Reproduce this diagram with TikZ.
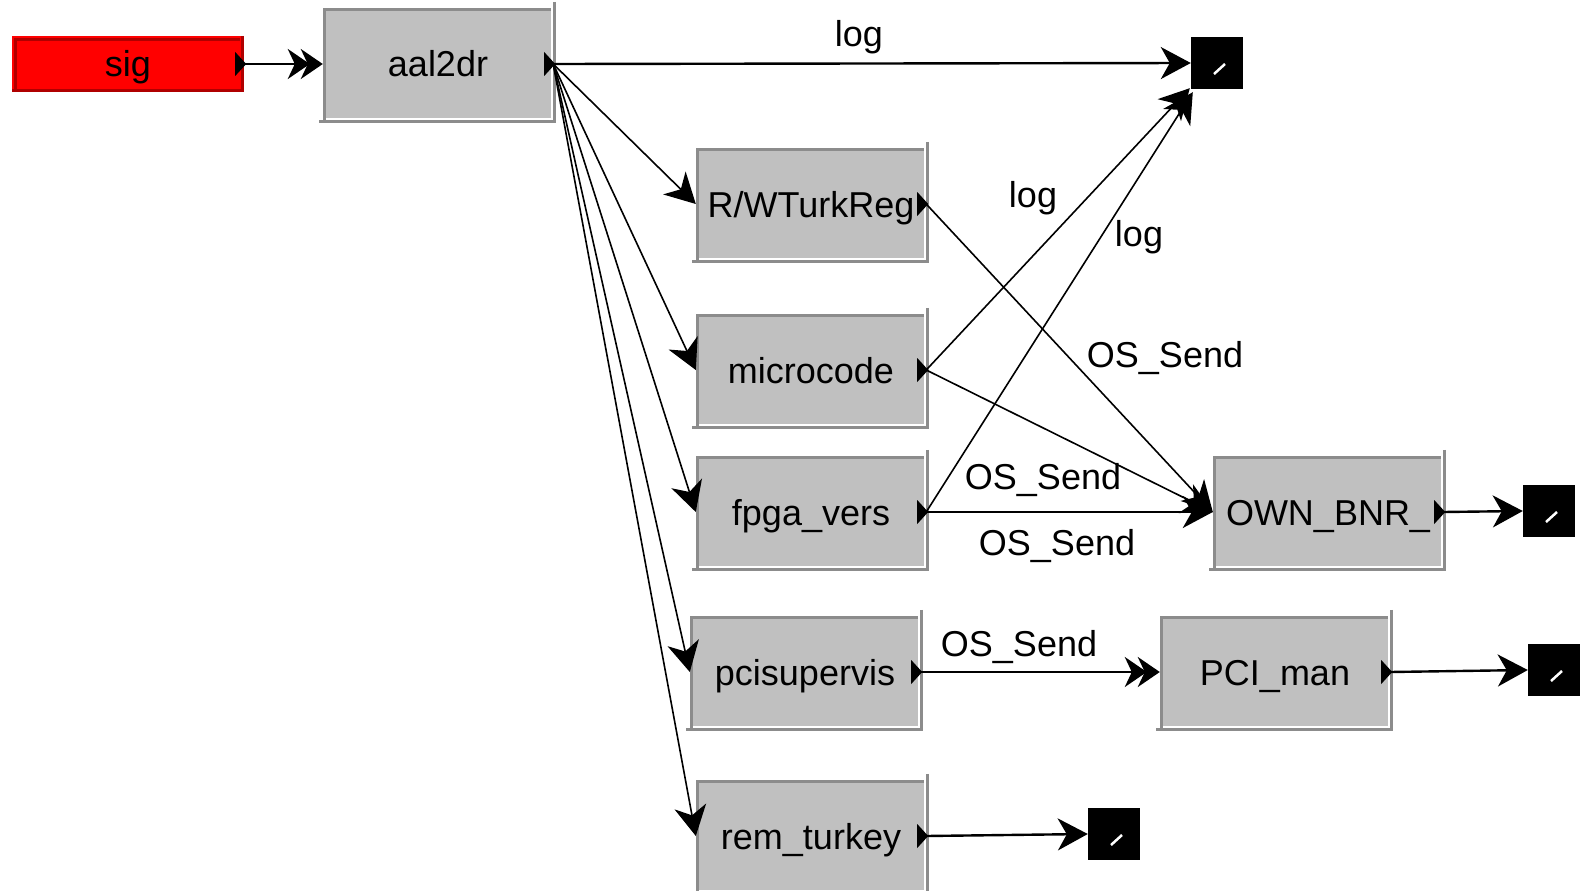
\documentclass[tikz,border=0pt]{standalone}
\usepackage{fontspec}
\setmainfont{Liberation Sans}
\usetikzlibrary{arrows.meta,calc}
\definecolor{boxgray}{HTML}{C0C0C0}
\definecolor{bevgray}{HTML}{8C8C8C}
\definecolor{sigred}{HTML}{FF0000}
\definecolor{sigdark}{HTML}{B00000}
\newcommand\bevelbox[1]{%
  \draw[bevgray,line width=3pt] ($(#1.south west)+(1.5,0)$) -- ($(#1.north west)+(1.5,1.5)$) -- ($(#1.north east)+(-2,1.5)$);
  \draw[white,line width=2pt] ($(#1.north east)+(-1,0)$) -- ($(#1.south east)+(-1,-1)$) -- ($(#1.south west)+(3,-1)$);
  \draw[bevgray,line width=2.5pt] ($(#1.north east)+(1.5,-6)$) -- ($(#1.south east)+(1.5,1.5)$) -- ($(#1.south west)+(-4,1.5)$);}
\newcommand\outport[1]{\fill ($(#1.east)+(-9,-12)$) -- ($(#1.east)+(2,0)$) -- ($(#1.east)+(-9,12)$) -- cycle;}
\newcommand\termslash[1]{\draw[white,line width=2.5pt] ($(#1.center)+(-3,11)$) -- ($(#1.center)+(8,1)$);}
\begin{document}
\begin{tikzpicture}[x=1pt,y=-1pt,font=\fontsize{36}{40}\selectfont,
  txt/.style={text height=26pt,text depth=0pt},
  gbox/.style={txt,rectangle,fill=boxgray,minimum width=230pt,minimum height=112pt,inner sep=0pt},
  redbox/.style={txt,rectangle,fill=sigred,minimum width=232pt,minimum height=56pt,inner sep=0pt},
  term/.style={rectangle,fill=black,minimum size=52pt,inner sep=0pt},
  tipone/.tip={Stealth[length=30pt,width=32pt,inset=9pt]},
  tiptwo/.tip={Stealth[length=22pt,width=30pt,inset=7pt,sep=-9pt]Stealth[length=22pt,width=30pt,inset=7pt]},
  hconn/.style={line width=2.4pt,-tipone},
  dconn/.style={line width=1.6pt,-tipone},
  dblconn/.style={line width=2.4pt,-tiptwo},
  lbl/.style={txt,inner sep=1pt}]
\useasboundingbox (0,0) rectangle (1582,891);
\fill[white] (0,0) rectangle (1582,891);
% nodes
\node[redbox] (sig) at (128,64) {sig};
\node[gbox] (aal2dr) at (438,64) {aal2dr};
\node[gbox] (rw) at (811,204) {R/WTurkReg};
\node[gbox] (micro) at (811,370) {microcode};
\node[gbox] (fpga) at (811,512) {fpga\_vers};
\node[gbox] (pcis) at (805,672) {pcisupervis};
\node[gbox] (remt) at (811,836) {rem\_turkey};
\node[gbox] (own) at (1328,512) {OWN\_BNR\_};
\node[gbox] (pci) at (1275,672) {PCI\_man};
\node[term] (term1) at (1217,63) {};
\node[term] (term2) at (1549,511) {};
\node[term] (term3) at (1554,670) {};
\node[term] (term4) at (1114,834) {};
% bevels
\draw[sigdark,line width=3pt] ($(sig.south west)+(4,-3)$) -- ($(sig.north west)+(4,4)$) -- ($(sig.north east)+(-4,4)$);
\draw[sigdark,line width=3pt] ($(sig.north east)+(-1.5,0)$) -- ($(sig.south east)+(-1.5,-1.5)$) -- ($(sig.south west)+(0,-1.5)$);
\foreach \n in {aal2dr,rw,micro,fpga,pcis,remt,own,pci}{\bevelbox{\n}}
\foreach \n in {term1,term2,term3,term4}{\termslash{\n}}
% connectors
\draw[dblconn] (sig.east) -- (aal2dr.west);
\draw[hconn] (aal2dr.east) -- (term1.west);
\draw[dconn] (aal2dr.east) -- (rw.west);
\draw[dconn] (aal2dr.east) -- (micro.west);
\draw[dconn] (aal2dr.east) -- (fpga.west);
\draw[dconn] (aal2dr.east) -- (pcis.west);
\draw[dconn] (aal2dr.east) -- (remt.west);
\draw[dconn] (micro.east) -- ($(term1.south west)+(-1,-1)$);
\draw[dconn] (fpga.east) -- ($(term1.south west)+(2,3)$);
\draw[dconn] (rw.east) -- (own.west);
\draw[dconn] (micro.east) -- (own.west);
\draw[hconn] (fpga.east) -- (own.west);
\draw[hconn] (own.east) -- (term2.west);
\draw[dblconn] (pcis.east) -- (pci.west);
\draw[hconn] (pci.east) -- (term3.west);
\draw[hconn] (remt.east) -- (term4.west);
% connector labels
\node[lbl] (l1) at (859,34) {log};
\node[lbl] (l2) at (1033,194) {log};
\node[lbl] (l3) at (1139,233) {log};
\node[lbl] (l4) at (1165,354) {OS\_Send};
\node[lbl] (l5) at (1043,476) {OS\_Send};
\node[lbl] (l6) at (1057,542) {OS\_Send};
\node[lbl] (l7) at (1019,643) {OS\_Send};
% output ports
\foreach \n in {sig,aal2dr,rw,micro,fpga,pcis,remt,own,pci}{\outport{\n}}
\end{tikzpicture}
\end{document}
